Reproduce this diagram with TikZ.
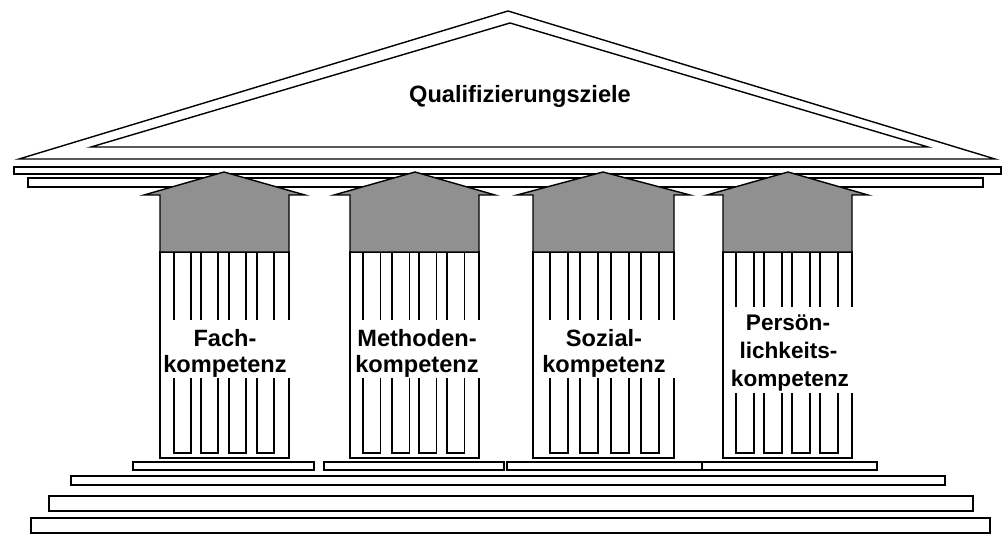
\documentclass[tikz,border=0pt]{standalone}
\usepackage{fontspec}
\setmainfont{Liberation Sans}
\definecolor{capgray}{RGB}{144,144,144}
\newcommand\pillar[7]{%
  \draw[slab] (#1,252) rectangle (#2,458);
  \foreach \f in {#4} \draw[flute] (\f,252) -- (\f,453) -- ({\f+#5},453) -- ({\f+#5},252);
  \fill[white] ({#1+0.8},#6) rectangle ({#2+2.5},#7);
  \draw[capital] (#1,252) -- (#1,195) -- ({#1-16},195) -- (#3,172) -- ({#2+16},195) -- (#2,195) -- (#2,252) -- cycle;
}
\begin{document}
\begin{tikzpicture}[x=1pt,y=-1pt,line width=1.4pt,
  slab/.style={draw=black,fill=white},
  flute/.style={draw=black,line join=miter},
  capital/.style={draw=black,fill=capgray,line join=miter},
  roof/.style={draw=black,line join=miter,miter limit=30},
  lbl/.style={font=\fontsize{23.6}{26}\selectfont\bfseries,inner sep=0pt,anchor=base},
  lblsmall/.style={font=\fontsize{22.6}{28}\selectfont\bfseries,inner sep=0pt,anchor=base}]
\useasboundingbox (0,0) rectangle (1004,534);
% steps
\draw[slab] (31,518) rectangle (990,533);
\draw[slab] (49,496) rectangle (973,511);
\draw[slab] (71,476) rectangle (945,485);
% plinths
\draw[slab] (133,462) rectangle (314,470);
\draw[slab] (324,462) rectangle (504,470);
\draw[slab] (507,462) rectangle (702,470);
\draw[slab] (702,462) rectangle (877,470);
% roof
\draw[roof] (19,159) -- (508,11) -- (995,159) -- cycle;
\draw[roof] (91,147) -- (510,23) -- (928,147) -- cycle;
% entablature
\draw[slab] (14,167) rectangle (1001,174);
\draw[slab] (28,178) rectangle (983,187);
% pillars
\pillar{160}{289}{224}{174,201,229,257}{17}{320}{378}
\pillar{350}{479}{415}{363,392,419,447}{17.5}{320}{378}
\pillar{533}{674}{603}{550,580,611,641}{18}{320}{378}
\pillar{723}{852}{788}{736,764,792,820}{18}{307}{393}
% labels
\node[lbl] (title) at (520,103) {Qualifizierungsziele};
\node[lbl] (c1a) at (225,347) {Fach-};
\node[lbl] (c1b) at (225,373) {kompetenz};
\node[lbl] (c2a) at (417,347) {Methoden-};
\node[lbl] (c2b) at (417,373) {kompetenz};
\node[lbl] (c3a) at (604,347) {Sozial-};
\node[lbl] (c3b) at (604,373) {kompetenz};
\node[lblsmall] (c4a) at (788,331) {Persön-};
\node[lblsmall] (c4b) at (788.5,359) {lichkeits-};
\node[lblsmall] (c4c) at (790,387) {kompetenz};
\end{tikzpicture}
\end{document}
